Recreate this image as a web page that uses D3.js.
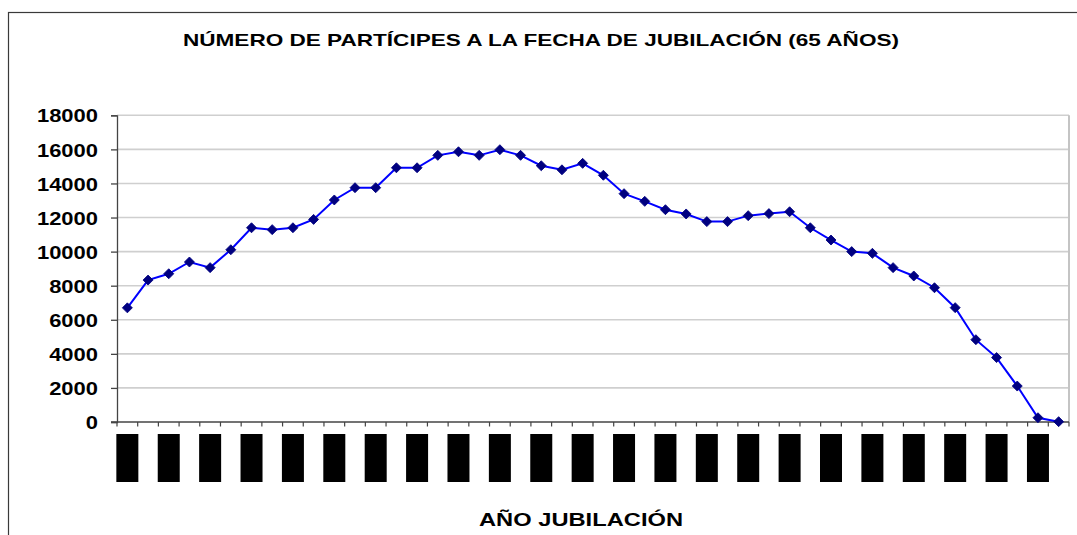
<!DOCTYPE html>
<html>
<head>
<meta charset="utf-8">
<script src="https://cdn.jsdelivr.net/npm/d3@7"></script>
<style>
  html, body { margin: 0; padding: 0; background: #ffffff; }
  svg { display: block; }
  text { font-family: "Liberation Sans", Arial, sans-serif; font-weight: bold; }
</style>
</head>
<body>
<svg id="chart" width="1077" height="535"></svg>
<script>
// ---- data ----
const years = [2008, 2009, 2010, 2011, 2012, 2013, 2014, 2015, 2016, 2017,
               2018, 2019, 2020, 2021, 2022, 2023, 2024, 2025, 2026, 2027,
               2028, 2029, 2030, 2031, 2032, 2033, 2034, 2035, 2036, 2037,
               2038, 2039, 2040, 2041, 2042, 2043, 2044, 2045, 2046, 2047,
               2048, 2049, 2050, 2051, 2052, 2053];
const participes = [6700, 8330, 8700, 9390, 9060, 10110, 11400, 11290, 11400, 11890,
                    13030, 13750, 13750, 14920, 14920, 15650, 15860, 15650, 15980, 15650,
                    15040, 14800, 15180, 14480, 13400, 12950, 12460, 12210, 11760, 11760,
                    12110, 12230, 12340, 11400, 10680, 10000, 9900, 9060, 8570, 7880,
                    6710, 4830, 3780, 2110, 250, 20];
const yTicks = [0, 2000, 4000, 6000, 8000, 10000, 12000, 14000, 16000, 18000];
const titleText = "NÚMERO DE PARTÍCIPES A LA FECHA DE JUBILACIÓN (65 AÑOS)";
const xTitleText = "AÑO JUBILACIÓN";

// ---- layout ----
const svg = d3.select("#chart");
const plot = { left: 117, right: 1069, top: 115.3, bottom: 422 };

// outer chart frame (extends past the visible window)
svg.append("rect")
  .attr("x", 8.5).attr("y", 12.5)
  .attr("width", 1100).attr("height", 600)
  .attr("fill", "#ffffff").attr("stroke", "#3a3a3a").attr("stroke-width", 1.2);

const x = d3.scaleBand().domain(years).range([plot.left, plot.right]).padding(0);
const y = d3.scaleLinear().domain([0, 18000]).range([plot.bottom, plot.top]);

// gridlines
svg.append("g").selectAll("line")
  .data(yTicks.filter(d => d > 0))
  .join("line")
  .attr("x1", plot.left).attr("x2", plot.right)
  .attr("y1", d => y(d)).attr("y2", d => y(d))
  .attr("stroke", "#cfcfcf").attr("stroke-width", 1.6);

// plot area border (right side, light grey)
svg.append("line")
  .attr("x1", plot.right).attr("x2", plot.right)
  .attr("y1", plot.top).attr("y2", plot.bottom)
  .attr("stroke", "#c4c4c4").attr("stroke-width", 2);

// y axis
const yAxis = svg.append("g")
  .attr("transform", `translate(${plot.left},0)`)
  .call(d3.axisLeft(y).tickValues(yTicks).tickSize(6).tickPadding(13).tickFormat(d3.format("d")));
yAxis.select(".domain").attr("stroke", "#444").attr("stroke-width", 1.3);
yAxis.selectAll(".tick line").attr("stroke", "#444").attr("stroke-width", 1.3);
yAxis.selectAll(".tick text")
  .attr("font-size", 18)
  .attr("font-family", "'Liberation Sans', Arial, sans-serif")
  .attr("font-weight", "bold")
  .attr("fill", "#000")
  .attr("dy", "0.37em")
  .each(function () {
    const w = this.getComputedTextLength();
    d3.select(this).attr("textLength", w * 1.22).attr("lengthAdjust", "spacingAndGlyphs");
  });

// x axis (ticks at category boundaries)
const boundaries = years.map(d => x(d)).concat([plot.right]);
svg.append("line")
  .attr("x1", plot.left - 6).attr("x2", plot.right)
  .attr("y1", plot.bottom).attr("y2", plot.bottom)
  .attr("stroke", "#444").attr("stroke-width", 1.3);
svg.append("g").selectAll("line")
  .data(boundaries)
  .join("line")
  .attr("x1", d => d).attr("x2", d => d)
  .attr("y1", plot.bottom).attr("y2", plot.bottom + 4.5)
  .attr("stroke", "#444").attr("stroke-width", 1.2);

// x labels (rotated year labels shown as solid black blocks)
const labelYears = years.filter((d, i) => i % 2 === 0);
const lab = svg.append("g").selectAll("g")
  .data(labelYears)
  .join("g")
  .attr("transform", d => `translate(${x(d) + x.bandwidth() / 2},434)`);
lab.append("rect")
  .attr("x", -11).attr("y", 0)
  .attr("width", 22).attr("height", 48)
  .attr("fill", "#000");
lab.append("text")
  .attr("transform", "translate(0,24) rotate(-90)")
  .attr("text-anchor", "middle")
  .attr("dy", "0.35em")
  .attr("font-size", 16)
  .attr("fill", "#000")
  .text(d => d);

// line
const cx = d => x(d) + x.bandwidth() / 2;
const series = years.map((yr, i) => ({ yr, v: participes[i] }));
svg.append("path")
  .datum(series)
  .attr("fill", "none")
  .attr("stroke", "#0000ff")
  .attr("stroke-width", 2)
  .attr("d", d3.line().x(d => cx(d.yr)).y(d => y(d.v)));

// markers (diamonds)
const diamond = d3.symbol().type(d3.symbolSquare).size(50);
svg.append("g").selectAll("path")
  .data(series)
  .join("path")
  .attr("d", diamond)
  .attr("transform", d => `translate(${cx(d.yr)},${y(d.v)}) rotate(45)`)
  .attr("fill", "#000080")
  .attr("stroke", "#000080")
  .attr("stroke-width", 0.8);

// title
svg.append("text")
  .attr("x", 183).attr("y", 46)
  .attr("font-size", 17)
  .attr("fill", "#000")
  .attr("textLength", 716).attr("lengthAdjust", "spacingAndGlyphs")
  .text(titleText);

// x axis title
svg.append("text")
  .attr("x", 479).attr("y", 526)
  .attr("font-size", 17.5)
  .attr("fill", "#000")
  .attr("textLength", 204).attr("lengthAdjust", "spacingAndGlyphs")
  .text(xTitleText);
</script>
</body>
</html>
